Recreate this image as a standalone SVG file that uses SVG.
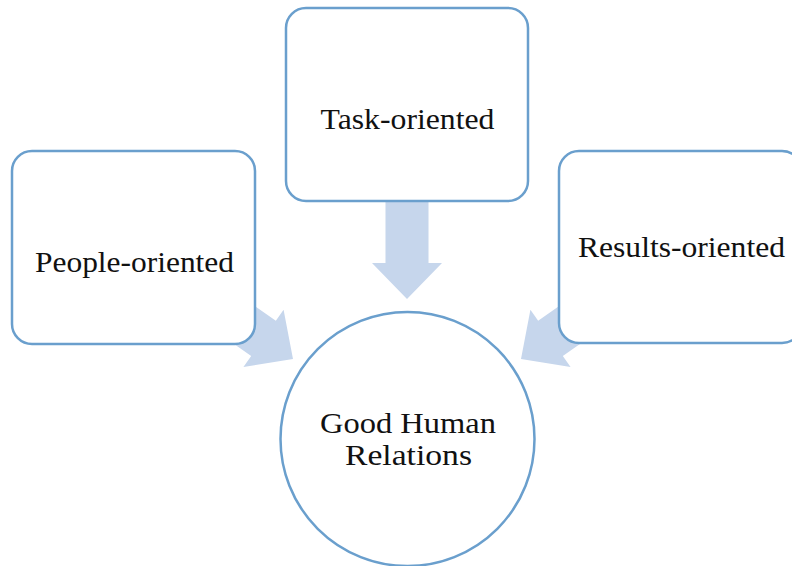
<svg xmlns="http://www.w3.org/2000/svg" width="792" height="566" viewBox="0 0 792 566">
  <style>
    .box { fill: #ffffff; stroke: #6a9fcd; stroke-width: 2.5; }
    .arrow { fill: #c6d6ec; stroke: none; }
    .label { font-family: "Liberation Serif", "DejaVu Serif", serif; font-size: 30px; fill: #111111; text-anchor: middle; }
  </style>
  <defs>
    <!-- block arrow pointing along +x, tip at the origin -->
    <polygon id="blockArrow" points="0,0 -36,-35 -36,-21.5 -100,-21.5 -100,21.5 -36,21.5 -36,35"/>
  </defs>

  <g id="connectors">
    <use href="#blockArrow" class="arrow" transform="translate(407,299) rotate(90)"/>
    <use href="#blockArrow" class="arrow" transform="translate(293,359) rotate(35)"/>
    <use href="#blockArrow" class="arrow" transform="translate(521,359) rotate(145)"/>
  </g>

  <g id="task">
    <rect class="box" x="286" y="8" width="242" height="193" rx="20"/>
    <text class="label" x="407.5" y="129" textLength="174" lengthAdjust="spacingAndGlyphs">Task-oriented</text>
  </g>

  <g id="people">
    <rect class="box" x="12" y="151" width="243" height="193" rx="20"/>
    <text class="label" x="134.5" y="272" textLength="199" lengthAdjust="spacingAndGlyphs">People-oriented</text>
  </g>

  <g id="results">
    <rect class="box" x="559" y="151" width="243" height="192" rx="20"/>
    <text class="label" x="681.5" y="257" textLength="207" lengthAdjust="spacingAndGlyphs">Results-oriented</text>
  </g>

  <g id="good-human-relations">
    <circle class="box" cx="407.5" cy="439" r="127"/>
    <text class="label" x="408" y="433" textLength="176" lengthAdjust="spacingAndGlyphs">Good Human</text>
    <text class="label" x="408.5" y="465" textLength="127" lengthAdjust="spacingAndGlyphs">Relations</text>
  </g>
</svg>
